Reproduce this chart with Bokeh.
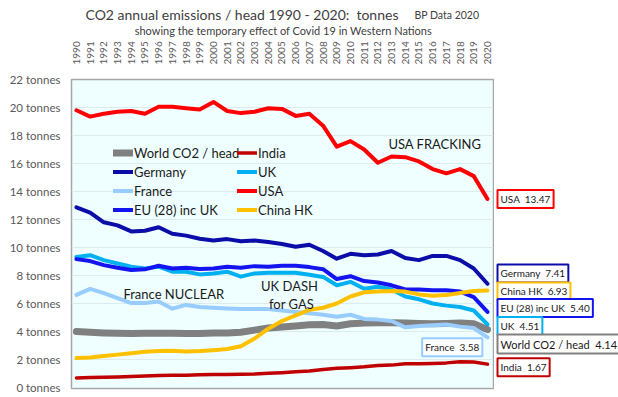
from bokeh.plotting import figure
from bokeh.models import Label, FixedTicker, Legend, LegendItem, Range1d
from bokeh.layouts import column, row
from bokeh.embed import file_html
from bokeh.resources import INLINE

years = list(range(1990, 2021))

world = [4.00, 3.95, 3.90, 3.87, 3.85, 3.87, 3.88, 3.88, 3.85, 3.85, 3.90,
         3.90, 3.95, 4.10, 4.25, 4.33, 4.40, 4.48, 4.50, 4.40, 4.55,
         4.60, 4.62, 4.63, 4.60, 4.57, 4.55, 4.57, 4.60, 4.55, 4.14]
india = [0.68, 0.71, 0.73, 0.75, 0.78, 0.82, 0.85, 0.88, 0.88, 0.92, 0.93,
         0.93, 0.95, 0.97, 1.02, 1.06, 1.12, 1.18, 1.28, 1.38, 1.42,
         1.48, 1.57, 1.60, 1.70, 1.70, 1.72, 1.76, 1.84, 1.82, 1.67]
germany = [12.87, 12.50, 11.80, 11.58, 11.15, 11.20, 11.45, 10.98, 10.85, 10.63, 10.50,
           10.60, 10.45, 10.50, 10.40, 10.25, 10.05, 10.20, 9.75, 9.20, 9.55,
           9.45, 9.50, 9.75, 9.25, 9.10, 9.40, 9.40, 9.10, 8.50, 7.41]
uk = [9.33, 9.45, 9.10, 8.86, 8.63, 8.51, 8.63, 8.27, 8.27, 8.08, 8.15,
      8.27, 7.92, 8.15, 8.20, 8.20, 8.20, 8.05, 7.90, 7.30, 7.55,
      7.05, 7.20, 7.00, 6.50, 6.30, 6.00, 5.85, 5.75, 5.50, 4.51]
france = [6.62, 7.05, 6.74, 6.39, 6.03, 6.03, 6.15, 5.63, 5.90, 5.75, 5.70,
          5.65, 5.60, 5.60, 5.60, 5.50, 5.40, 5.30, 5.20, 5.05, 5.20,
          4.90, 4.85, 4.75, 4.30, 4.40, 4.45, 4.50, 4.35, 4.25, 3.58]
usa = [19.80, 19.35, 19.55, 19.70, 19.75, 19.55, 20.05, 20.05, 19.95, 19.85, 20.40,
       19.75, 19.60, 19.70, 19.95, 19.90, 19.40, 19.55, 18.70, 17.20, 17.60,
       17.00, 16.05, 16.50, 16.45, 16.15, 15.60, 15.30, 15.60, 15.10, 13.47]
eu = [9.17, 9.03, 8.74, 8.55, 8.39, 8.44, 8.70, 8.50, 8.55, 8.46, 8.50,
      8.62, 8.55, 8.67, 8.62, 8.70, 8.70, 8.60, 8.45, 7.75, 7.95,
      7.60, 7.50, 7.30, 7.00, 7.00, 6.95, 6.95, 6.85, 6.45, 5.40]
china = [2.10, 2.15, 2.25, 2.35, 2.45, 2.55, 2.60, 2.62, 2.58, 2.60, 2.67,
         2.75, 2.95, 3.50, 4.20, 4.75, 5.15, 5.55, 5.70, 6.00, 6.50,
         6.80, 6.85, 6.90, 6.85, 6.65, 6.55, 6.60, 6.75, 6.90, 6.93]

y_ticks = [0, 2, 4, 6, 8, 10, 12, 14, 16, 18, 20, 22]
y_tick_labels = ["0 tonnes", "2 tonnes", "4 tonnes", "6 tonnes", "8 tonnes", "10 tonnes",
                 "12 tonnes", "14 tonnes", "16 tonnes", "18 tonnes", "20 tonnes", "22 tonnes"]

FONT = "Lato"
TXT = "#1a1a1a"
GREY = "#404040"
GAP = " \u00a0"

yr = Range1d(-0.07, 22.0)

# ---------------- title strip ----------------
tf = figure(width=618, height=38, output_backend="svg", toolbar_location=None,
            x_range=Range1d(0, 618), y_range=Range1d(0, 38),
            x_axis_type=None, y_axis_type=None,
            min_border_left=0, min_border_right=0, min_border_top=0, min_border_bottom=0)
tf.outline_line_color = None
tf.background_fill_color = "white"
tf.add_layout(Label(x=85, y=24, text="CO2 annual emissions / head 1990 - 2020:" + GAP + "tonnes",
                    text_align="left", text_baseline="middle", text_font=FONT,
                    text_font_size="14px", text_color=GREY))
tf.add_layout(Label(x=414, y=23.5, text="BP Data 2020",
                    text_align="left", text_baseline="middle", text_font=FONT,
                    text_font_size="10.5px", text_color=GREY))
tf.add_layout(Label(x=283, y=8, text="showing the temporary effect of Covid 19 in Western Nations",
                    text_align="center", text_baseline="middle", text_font=FONT,
                    text_font_size="11px", text_color=GREY))

# ---------------- main chart ----------------
p = figure(width=494, height=359, output_backend="svg", toolbar_location=None,
           x_range=Range1d(1989.64, 2020.44), y_range=yr,
           x_axis_location="above",
           min_border_left=71, min_border_right=1, min_border_top=39, min_border_bottom=9)

p.background_fill_color = "#efffff"
p.border_fill_color = "white"
p.outline_line_color = "#a6a6a6"
p.outline_line_width = 1.5

p.xgrid.visible = False
p.ygrid.grid_line_color = "#dcecec"
p.ygrid.ticker = FixedTicker(ticks=y_ticks)

xa = p.xaxis[0]
xa.ticker = FixedTicker(ticks=years)
xa.major_label_orientation = "vertical"
xa.axis_line_color = None
xa.major_tick_line_color = None
xa.minor_tick_line_color = None
xa.major_tick_out = 0
xa.major_tick_in = 0
xa.major_label_standoff = 15
xa.major_label_text_font = FONT
xa.major_label_text_font_size = "10px"
xa.major_label_text_color = "#595959"

ya = p.yaxis[0]
ya.ticker = FixedTicker(ticks=y_ticks)
ya.major_label_overrides = {t: s for t, s in zip(y_ticks, y_tick_labels)}
ya.axis_line_color = None
ya.major_tick_line_color = None
ya.minor_tick_line_color = None
ya.major_tick_out = 0
ya.major_tick_in = 0
ya.major_label_standoff = 11
ya.major_label_text_font = FONT
ya.major_label_text_font_size = "11.5px"
ya.major_label_text_color = "#595959"

series = [
    ("World CO2 / head", world, "#808080", 7),
    ("India", india, "#c00000", 3.5),
    ("Germany", germany, "#0c0ca8", 4),
    ("UK", uk, "#00b0f0", 4),
    ("France", france, "#99ccff", 4),
    ("USA", usa, "#ff0000", 4),
    ("EU (28) inc UK", eu, "#1414f0", 4),
    ("China HK", china, "#ffc000", 4),
]
rend = {}
for name, vals, col, w in series:
    rend[name] = p.line(years, vals, line_color=col, line_width=w,
                        line_join="round", line_cap="round")


def make_legend(names, loc):
    lg = Legend(items=[LegendItem(label=n, renderers=[rend[n]]) for n in names],
                location=loc, orientation="vertical",
                background_fill_alpha=0, border_line_color=None,
                padding=0, margin=0, spacing=2,
                glyph_width=20, glyph_height=17, label_height=17,
                label_standoff=1, label_text_font=FONT,
                label_text_font_size="13px", label_text_color=TXT)
    p.add_layout(lg)


make_legend(["World CO2 / head", "Germany", "France", "EU (28) inc UK"], (42, 170))
make_legend(["India", "UK", "USA", "China HK"], (166, 170))

notes = [("USA FRACKING", 2012.77, 17.4, "left"),
         ("France NUCLEAR", 1993.43, 6.65, "left"),
         ("UK DASH", 2005.55, 7.28, "center"),
         ("for GAS", 2005.7, 6.0, "center")]
for t, x, y, al in notes:
    p.add_layout(Label(x=x, y=y, text=t, text_align=al, text_baseline="middle",
                       text_font=FONT, text_font_size="13px", text_color=TXT))

# France end label sits inside the chart
p.add_layout(Label(x=2015.16, y=2.88, x_offset=1, text="France" + GAP + f"{france[-1]:.2f}",
                   text_align="left", text_baseline="middle",
                   text_font=FONT, text_font_size="10px", text_color=TXT,
                   background_fill_color="white", border_line_color="#99ccff",
                   border_line_width=2, padding=3))

# ---------------- right label strip ----------------
rf = figure(width=124, height=359, output_backend="svg", toolbar_location=None,
            x_range=Range1d(0, 124), y_range=yr,
            x_axis_type=None, y_axis_type=None,
            min_border_left=0, min_border_right=0, min_border_top=39, min_border_bottom=9)
rf.outline_line_color = None
rf.background_fill_color = "white"

end_labels = [
    ("USA", usa, "#ff0000", 13.47, "10px"),
    ("Germany", germany, "#0c0ca8", 8.15, "10px"),
    ("China HK", china, "#ffc000", 6.86, "10px"),
    ("EU (28) inc UK", eu, "#1414f0", 5.68, "10px"),
    ("UK", uk, "#00b0f0", 4.40, "10px"),
    ("World CO2 / head", world, "#808080", 3.10, "11px"),
    ("India", india, "#c00000", 1.45, "10px"),
]
for name, vals, col, y, fs in end_labels:
    rf.add_layout(Label(x=3, y=y, text=name + GAP + f"{vals[-1]:.2f}",
                        text_align="left", text_baseline="middle",
                        text_font=FONT, text_font_size=fs, text_color=TXT,
                        background_fill_color="white", border_line_color=col,
                        border_line_width=2, padding=3))

layout = column(tf, row(p, rf, spacing=0), spacing=0)
open("out.html", "w").write(file_html(layout, INLINE))
